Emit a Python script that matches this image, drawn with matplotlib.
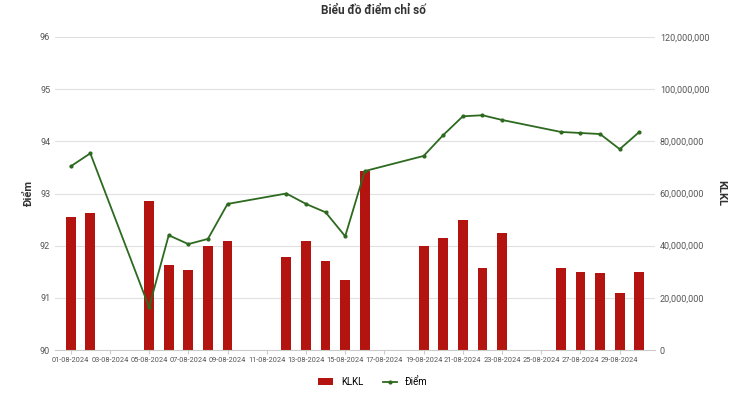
import matplotlib
matplotlib.use("Agg")
import matplotlib.pyplot as plt
import pandas as pd

dates = ["01", "02", "05", "06", "07", "08", "09", "12", "13", "14", "15",
         "16", "19", "20", "21", "22", "23", "26", "27", "28", "29", "30"]
klkl = [51.0, 52.5, 57.0, 32.5, 30.6, 40.0, 41.8, 35.6, 41.8, 34.0, 26.8,
        68.6, 39.8, 43.0, 50.0, 31.4, 44.8, 31.4, 29.9, 29.5, 21.8, 29.9]  # millions
diem = [93.52, 93.77, 90.82, 92.20, 92.03, 92.13, 92.80, 93.00, 92.80, 92.64, 92.18,
        93.43, 93.72, 94.12, 94.48, 94.50, 94.41, 94.18, 94.16, 94.14, 93.85, 94.18]

x = pd.to_datetime(["2024-08-" + d for d in dates])
all_days = pd.date_range("2024-08-01", "2024-08-30")
tick_days = all_days[::2]

plt.rcParams["font.family"] = ["Roboto", "DejaVu Sans"]
fig = plt.figure(figsize=(7.46, 4.04), dpi=100)
ax = fig.add_axes([55 / 746, 1 - 350 / 404, 600 / 746, 313 / 404])
ax2 = ax.twinx()

ax2.bar(x, [v * 1e6 for v in klkl], width=0.5, color="#b3140f", label="KLKL", zorder=2)
ax.plot(x, diem, color="#2d6a1f", lw=1.3, marker="o", ms=2, label="Điểm", zorder=3)
ax.set_zorder(ax2.get_zorder() + 1)
ax.patch.set_visible(False)

ax.set_ylim(90, 96)
ax2.set_ylim(0, 120e6)
ax.set_xlim(all_days[0] - pd.Timedelta(days=0.8), all_days[-1] + pd.Timedelta(days=0.8))
ax.set_xticks(tick_days)
ax.set_xticklabels([d.strftime("%d-%m-%Y") for d in tick_days], fontsize=5.3, color="#555")
ax.tick_params(axis="y", labelsize=6.5, colors="#555", length=0)
ax2.tick_params(axis="y", labelsize=6.5, colors="#555", length=0)
ax2.yaxis.set_major_formatter(matplotlib.ticker.FuncFormatter(lambda v, p: f"{int(v):,}"))
ax2.grid(True, axis="y", color="#e0e0e0", lw=0.8)
ax2.set_axisbelow(True)
for a in (ax, ax2):
    for s in a.spines.values():
        s.set_visible(False)
ax.spines["bottom"].set_visible(True)
ax.spines["bottom"].set_color("#ccc")
ax.tick_params(axis="x", length=3, color="#ccc", pad=2)

ax.set_ylabel("Điểm", fontsize=8, fontweight="bold", color="#333")
ax2.set_ylabel("KLKL", fontsize=8, fontweight="bold", color="#333", rotation=270, labelpad=12)
fig.text(0.5, 0.965, "Biểu đồ điểm chỉ số", ha="center", fontsize=8.5, fontweight="bold", color="#333")

h1, l1 = ax2.get_legend_handles_labels()
h2, l2 = ax.get_legend_handles_labels()
fig.legend(h1 + h2, l1 + l2, loc="lower center", ncol=2, frameon=False, fontsize=7,
           bbox_to_anchor=(0.5, 0.02), handlelength=1.5)

fig.savefig("out.png", dpi=100)
